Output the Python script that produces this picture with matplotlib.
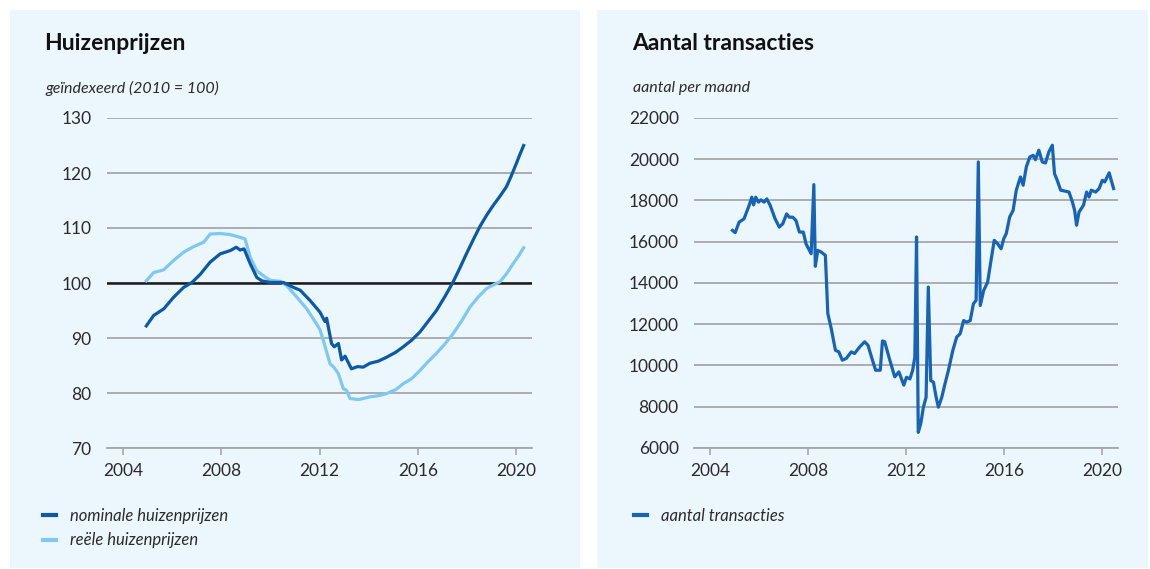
import matplotlib
matplotlib.use("Agg")
from matplotlib import pyplot as plt
from matplotlib.patches import Rectangle
from matplotlib.lines import Line2D

# Huizenprijzen (2010 = 100)
nom_years = [2004.95, 2005.25, 2005.66, 2006.06, 2006.47, 2006.81, 2007.15, 2007.55,
             2007.96, 2008.37, 2008.61, 2008.77, 2008.93, 2009.18, 2009.45, 2009.65,
             2009.99, 2010.53, 2010.94, 2011.21, 2011.62, 2012.02, 2012.22, 2012.29,
             2012.49, 2012.6, 2012.77, 2012.9, 2013.04, 2013.3, 2013.55, 2013.78,
             2014.05, 2014.4, 2014.73, 2015.1, 2015.41, 2015.75, 2016.09, 2016.4,
             2016.76, 2017.1, 2017.44, 2017.7, 2017.98, 2018.25, 2018.52, 2018.8,
             2019.07, 2019.35, 2019.61, 2019.8, 2020.01, 2020.15, 2020.31]
nom_values = [92.2, 94.1, 95.3, 97.4, 99.2, 100.1, 101.6, 103.8,
              105.3, 105.9, 106.5, 106.0, 106.2, 103.5, 101.0, 100.4,
              100.1, 100.1, 99.2, 98.7, 96.8, 94.7, 93.0, 93.6,
              89.0, 88.4, 89.0, 86.0, 86.7, 84.4, 84.8, 84.7,
              85.4, 85.8, 86.5, 87.4, 88.4, 89.6, 91.1, 92.9,
              95.0, 97.5, 100.2, 102.6, 105.3, 107.8, 110.2, 112.3,
              114.1, 115.8, 117.5, 119.4, 121.7, 123.3, 125.0]

real_years = [2004.95, 2005.25, 2005.66, 2006.06, 2006.47, 2006.87, 2007.28, 2007.55,
              2007.96, 2008.37, 2008.77, 2008.97, 2009.18, 2009.45, 2009.72, 2009.99,
              2010.4, 2010.67, 2011.08, 2011.48, 2011.89, 2012.02, 2012.16, 2012.43,
              2012.6, 2012.77, 2012.97, 2013.1, 2013.24, 2013.6, 2014.05, 2014.4,
              2014.73, 2015.1, 2015.41, 2015.75, 2016.09, 2016.4, 2016.76, 2017.1,
              2017.44, 2017.8, 2018.12, 2018.45, 2018.8, 2019.05, 2019.34, 2019.6,
              2019.88, 2020.1, 2020.31]
real_values = [100.4, 101.9, 102.4, 104.1, 105.6, 106.6, 107.4, 108.9,
               109.0, 108.8, 108.3, 108.0, 104.7, 102.2, 101.3, 100.5,
               100.3, 99.5, 97.4, 95.3, 92.5, 91.5, 89.5, 85.3,
               84.6, 83.5, 80.8, 80.5, 79.0, 78.8, 79.3, 79.5,
               79.9, 80.6, 81.7, 82.6, 84.1, 85.6, 87.2, 88.9,
               90.8, 93.2, 95.6, 97.4, 99.0, 99.6, 100.2, 101.6,
               103.5, 104.9, 106.4]

# Aantal transacties per maand
tr_years = [2004.92, 2005.03, 2005.19, 2005.39, 2005.6, 2005.71, 2005.78, 2005.87,
            2005.98, 2006.08, 2006.21, 2006.32, 2006.46, 2006.66, 2006.83, 2006.97,
            2007.13, 2007.24, 2007.38, 2007.51, 2007.65, 2007.81, 2007.92, 2008.13,
            2008.24, 2008.3, 2008.4, 2008.54, 2008.71, 2008.81, 2008.95, 2009.12,
            2009.26, 2009.4, 2009.56, 2009.77, 2009.9, 2010.11, 2010.31, 2010.45,
            2010.59, 2010.76, 2010.95, 2011.04, 2011.13, 2011.34, 2011.54, 2011.71,
            2011.91, 2012.02, 2012.16, 2012.27, 2012.36, 2012.43, 2012.5, 2012.6,
            2012.71, 2012.82, 2012.91, 2013.01, 2013.12, 2013.23, 2013.32, 2013.46,
            2013.59, 2013.73, 2013.91, 2014.07, 2014.21, 2014.35, 2014.48, 2014.62,
            2014.75, 2014.86, 2014.95, 2015.03, 2015.17, 2015.33, 2015.47, 2015.6,
            2015.74, 2015.88, 2015.99, 2016.09, 2016.23, 2016.37, 2016.5, 2016.67,
            2016.78, 2016.91, 2017.05, 2017.19, 2017.28, 2017.42, 2017.56, 2017.69,
            2017.83, 2017.97, 2018.06, 2018.17, 2018.31, 2018.51, 2018.65, 2018.79,
            2018.88, 2018.96, 2019.06, 2019.24, 2019.37, 2019.47, 2019.56, 2019.74,
            2019.88, 2020.01, 2020.11, 2020.29, 2020.47]
tr_values = [16550, 16440, 16950, 17110, 17760, 18160, 17790, 18160,
             17920, 18030, 17920, 18080, 17760, 17110, 16710, 16870,
             17350, 17190, 17190, 17030, 16470, 16470, 15900, 15420,
             18770, 14810, 15580, 15500, 15340, 12520, 11790, 10740,
             10660, 10260, 10340, 10660, 10580, 10900, 11150, 10980,
             10420, 9770, 9770, 11190, 11150, 10260, 9450, 9690,
             9050, 9430, 9350, 9760, 10400, 16230, 6760, 7170,
             7980, 8460, 13800, 9270, 9190, 8460, 7980, 8460,
             9110, 9760, 10730, 11380, 11540, 12180, 12100, 12180,
             12990, 13160, 19870, 12910, 13640, 14040, 15100, 16070,
             15900, 15660, 16150, 16390, 17200, 17520, 18500, 19140,
             18740, 19630, 20110, 20190, 19980, 20440, 19870, 19820,
             20360, 20680, 19300, 18980, 18500, 18450, 18410, 17930,
             17520, 16800, 17440, 17770, 18410, 18170, 18500, 18410,
             18580, 18980, 18900, 19340, 18580]

year_ticks = [2004, 2008, 2012, 2016, 2020]

W, H = 1150, 569
PANEL = "#ecf6fd"
GRID = "#a5a8aa"
DARK = "#0c5aa6"
LIGHT = "#7fc8f2"
TRANS = "#1763b5"
TXT = "#2b2b2b"

plt.rcParams["font.family"] = ["Lato", "DejaVu Sans"]

fig = plt.figure(figsize=(W / 100, H / 100), dpi=100, facecolor="white")


def px(x0, y0, x1, y1):
    # pixel box (top-left origin) -> figure fraction rect
    return [x0 / W, 1 - y1 / H, (x1 - x0) / W, (y1 - y0) / H]


for x0, x1 in [(10, 580), (597, 1148)]:
    fig.add_artist(Rectangle((x0 / W, 1 - 568 / H), (x1 - x0) / W, 558 / H,
                             transform=fig.transFigure, facecolor=PANEL,
                             edgecolor="none", zorder=0))


def style(ax, ylim, yticks):
    ax.set_facecolor("none")
    ax.set_xlim(2003.35, 2020.65)
    ax.set_ylim(*ylim)
    ax.set_yticks(yticks)
    ax.set_xticks(year_ticks)
    for s in ["top", "right", "left"]:
        ax.spines[s].set_visible(False)
    ax.spines["bottom"].set_color(GRID)
    ax.spines["bottom"].set_linewidth(1.3)
    ax.grid(axis="y", color=GRID, linewidth=1.3)
    ax.set_axisbelow(True)
    ax.tick_params(axis="y", length=0, pad=11, labelsize=12.5, labelcolor=TXT)
    ax.tick_params(axis="x", length=5, width=1.2, color=GRID, pad=6,
                   labelsize=12.5, labelcolor=TXT)


# left panel
ax1 = fig.add_axes(px(107, 118, 532, 448))
style(ax1, (70, 130), [70, 80, 90, 100, 110, 120, 130])
ax1.axhline(100, color="#1a1a1a", linewidth=1.8, zorder=1)
ax1.plot(real_years, real_values, color=LIGHT, linewidth=2.3, zorder=2)
ax1.plot(nom_years, nom_values, color=DARK, linewidth=2.3, zorder=3)
fig.text(44 / W, 1 - 44 / H, "Huizenprijzen", fontsize=16.5, fontweight="bold",
         color="#111111", va="center")
fig.text(45 / W, 1 - 88 / H, "geïndexeerd (2010 = 100)", fontsize=11.5,
         style="italic", color=TXT, va="center")
h1 = [Line2D([], [], color=DARK, linewidth=3), Line2D([], [], color=LIGHT, linewidth=3)]
fig.legend(h1, ["nominale huizenprijzen", "reële huizenprijzen"],
           loc="upper left", bbox_to_anchor=(43 / W, 1 - 508 / H), frameon=False,
           handlelength=0.8, handletextpad=0.8, labelspacing=0.5,
           prop={"style": "italic", "size": 12}, labelcolor=TXT,
           borderaxespad=0, borderpad=0)

# right panel
ax2 = fig.add_axes(px(694, 118, 1118, 448))
style(ax2, (6000, 22000), list(range(6000, 22001, 2000)))
ax2.plot(tr_years, tr_values, color=TRANS, linewidth=2.3)
fig.text(632 / W, 1 - 44 / H, "Aantal transacties", fontsize=16.5,
         fontweight="bold", color="#111111", va="center")
fig.text(633 / W, 1 - 88 / H, "aantal per maand", fontsize=11.5,
         style="italic", color=TXT, va="center")
fig.legend([Line2D([], [], color=TRANS, linewidth=3)], ["aantal transacties"],
           loc="upper left", bbox_to_anchor=(634 / W, 1 - 508 / H), frameon=False,
           handlelength=0.8, handletextpad=0.8,
           prop={"style": "italic", "size": 12}, labelcolor=TXT,
           borderaxespad=0, borderpad=0)

fig.savefig("out.png", dpi=100, facecolor="white")
